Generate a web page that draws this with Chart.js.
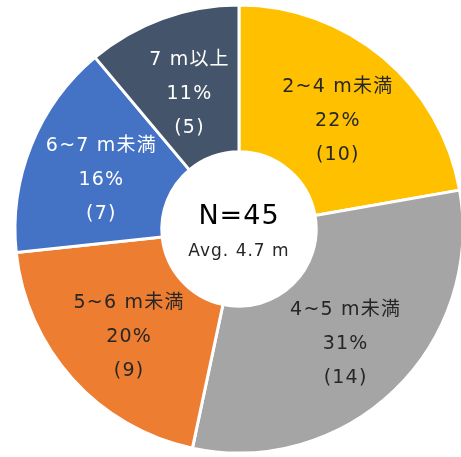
<!DOCTYPE html>
<html>
<head>
<meta charset="utf-8">
<script src="https://cdn.jsdelivr.net/npm/chart.js@4"></script>
<style>
	html, body { margin: 0; padding: 0; background: #fff; }
	#wrap { width: 461px; height: 457px; }
</style>
</head>
<body>
<div id="wrap"><canvas id="pie-chartcanvas"></canvas></div>
<script>
var categories = ["2~4 m未満", "4~5 m未満", "5~6 m未満", "6~7 m未満", "7 m以上"];
var counts = [10, 14, 9, 7, 5];
var percents = [22, 31, 20, 16, 11];
var colors = ["#FFC000", "#A5A5A5", "#ED7D31", "#4472C4", "#44546A"];
var textColors = ["#262626", "#262626", "#262626", "#FFFFFF", "#FFFFFF"];
var centerTitle = "N=45";
var centerSub = "Avg. 4.7 m";

var FONT = "'DejaVu Sans', 'Noto Sans CJK JP', sans-serif";

// labels in each slice + text in the hole
var labelPlugin = {
	id : "sliceLabels",
	afterDatasetsDraw : function(chart) {
		var ctx = chart.ctx;
		var meta = chart.getDatasetMeta(0);
		ctx.save();
		ctx.textAlign = "center";
		ctx.textBaseline = "middle";
		ctx.font = "19px " + FONT;
		ctx.letterSpacing = "1.2px";
		meta.data.forEach(function(arc, i) {
			var p = arc.tooltipPosition();
			var lines = [categories[i], percents[i] + "%", "(" + counts[i] + ")"];
			ctx.fillStyle = textColors[i];
			for (var j = 0; j < lines.length; j++) {
				ctx.fillText(lines[j], p.x + 2, p.y + 7 + (j - 1) * 34);
			}
		});

		var cx = meta.data[0].x;
		var cy = meta.data[0].y;
		ctx.fillStyle = "#000";
		ctx.letterSpacing = "1px";
		ctx.font = "27px " + FONT;
		ctx.fillText(centerTitle, cx, cy - 12);
		ctx.font = "17px " + FONT;
		ctx.fillStyle = "#262626";
		ctx.fillText(centerSub, cx, cy + 23);
		ctx.restore();
	}
};

var ctx = document.getElementById("pie-chartcanvas");

var data = {
	labels : categories,
	datasets : [
		{
			data : counts,
			backgroundColor : colors,
			borderColor : "#FFFFFF",
			borderWidth : 3
		}
	]
};

var options = {
	responsive : true,
	maintainAspectRatio : false,
	animation : false,
	radius : 224,
	cutout : 76,
	layout : {
		padding : { left : 17, top : 1, right : 0, bottom : 0 }
	},
	plugins : {
		legend : { display : false },
		tooltip : { enabled : false }
	}
};

var chart = new Chart(ctx, {
	type : "doughnut",
	data : data,
	options : options,
	plugins : [labelPlugin]
});
</script>
</body>
</html>
